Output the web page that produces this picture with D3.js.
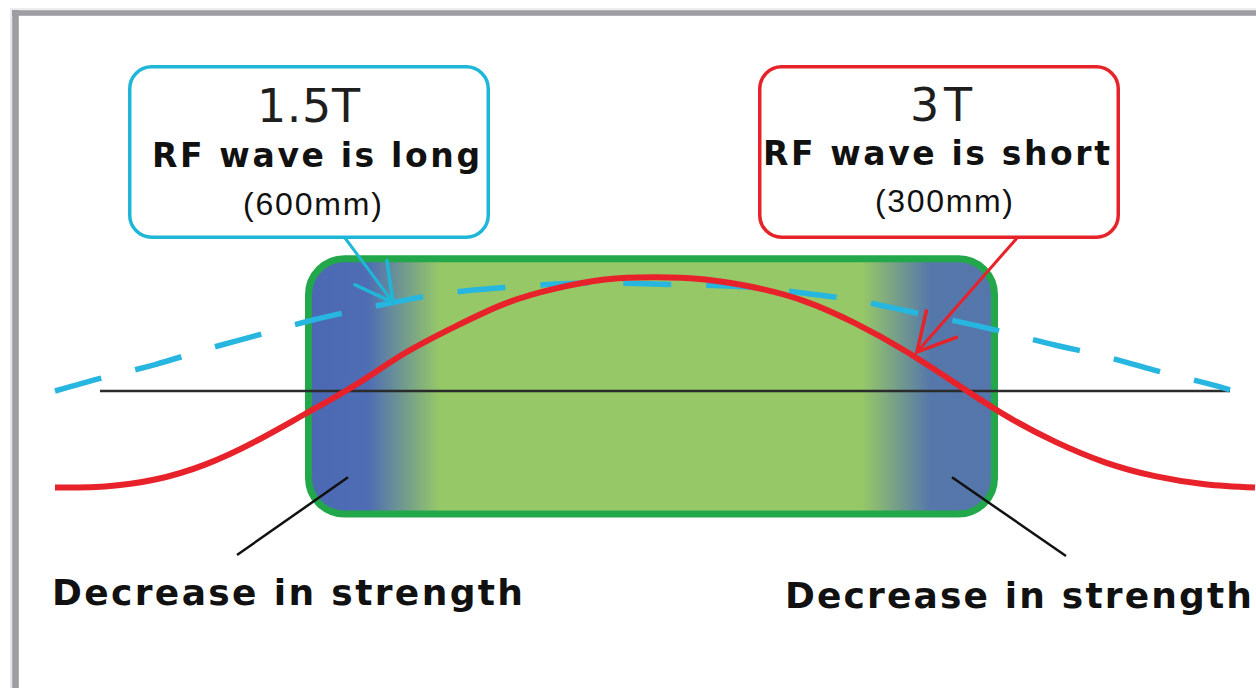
<!DOCTYPE html>
<html><head><meta charset="utf-8">
<script src="https://cdn.jsdelivr.net/npm/d3@7"></script>
<style>html,body{margin:0;padding:0;background:#fff;} svg{display:block;}</style>
</head><body>
<svg id="c" width="1256" height="688"></svg>
<script>
// ---------------- data ----------------
// position along the body axis (arbitrary units), RF field amplitude (relative)
const positions3T = [0,50,100,150,200,250,300,350,400,450,500,550,600,650,700,750,800,850,900,950,1000,1050,1100,1150,1200];
const field3T     = [-0.84,-0.83,-0.77,-0.64,-0.44,-0.20,0.05,0.33,0.56,0.76,0.89,0.97,0.99,0.97,0.90,0.78,0.59,0.35,0.07,-0.21,-0.44,-0.62,-0.74,-0.81,-0.84];
const positions15T = [0,50,100,150,200,250,300,350,400,450,500,550,600,650,700,750,800,850,900,950,1000,1050,1100,1150,1175];
const field15T     = [0,0.12,0.23,0.36,0.48,0.60,0.70,0.79,0.86,0.90,0.93,0.94,0.93,0.92,0.90,0.85,0.79,0.70,0.61,0.51,0.40,0.30,0.18,0.07,0.01];
const baselineSpan = [45, 1175];           // zero-amplitude axis extent
const phantomSpan  = [250, 943];           // body (green object) extent
const phantomAmp   = [1.18, -1.10];
const labels15T = ["1.5T", "RF wave is long", "(600mm)"];
const labels3T  = ["3T", "RF wave is short", "(300mm)"];
const weakLabel = "Decrease in strength";
// annotation targets: [position, amplitude]
const tip15T = [338, 0.77];
const tip3T  = [862, 0.34];
const weakLeft  = [293, -0.75];
const weakRight = [897, -0.75];

// ---------------- scales ----------------
const W = 1256, H = 688;
const x = d3.scaleLinear().domain([0, 1200]).range([55, 1255]);
const y = d3.scaleLinear().domain([-1, 1]).range([506, 276]);

const svg = d3.select("#c");
const defs = svg.append("defs");

// frame
svg.append("line").attr("x1", 15.5).attr("x2", 15.5).attr("y1", 10).attr("y2", H)
  .attr("stroke", "#e6e6e8").attr("stroke-width", 11);
svg.append("line").attr("x1", 10).attr("x2", W).attr("y1", 13).attr("y2", 13)
  .attr("stroke", "#ececee").attr("stroke-width", 10);
svg.append("line").attr("x1", 15.5).attr("x2", 15.5).attr("y1", 10).attr("y2", H)
  .attr("stroke", "#9e9ea2").attr("stroke-width", 6.5);
svg.append("line").attr("x1", 12).attr("x2", W).attr("y1", 13).attr("y2", 13)
  .attr("stroke", "#9e9ea2").attr("stroke-width", 5.5);
svg.append("rect").attr("x", 19).attr("y", 16).attr("width", W).attr("height", H).attr("fill", "#fff");

// gradient for the body
const bx0 = x(phantomSpan[0]), bx1 = x(phantomSpan[1]);
const grad = defs.append("linearGradient").attr("id", "body")
  .attr("gradientUnits", "userSpaceOnUse")
  .attr("x1", bx0).attr("x2", bx1).attr("y1", 0).attr("y2", 0);
const stopPx = [[bx0, "#4b69b3"], [368, "#4e6db4"], [440, "#96c867"], [862, "#96c867"], [930, "#5677aa"], [bx1, "#5576aa"]];
stopPx.forEach(([px, c]) => grad.append("stop")
  .attr("offset", ((px - bx0) / (bx1 - bx0)).toFixed(4)).attr("stop-color", c));

const sw = 7;
svg.append("rect")
  .attr("x", bx0 + sw / 2).attr("y", y(phantomAmp[0]) + sw / 2)
  .attr("width", bx1 - bx0 - sw).attr("height", y(phantomAmp[1]) - y(phantomAmp[0]) - sw)
  .attr("rx", 36).attr("ry", 36)
  .attr("fill", "url(#body)").attr("stroke", "#22a84a").attr("stroke-width", sw);

// baseline
svg.append("line")
  .attr("x1", x(baselineSpan[0])).attr("x2", x(baselineSpan[1]))
  .attr("y1", y(0)).attr("y2", y(0))
  .attr("stroke", "#2b2b2b").attr("stroke-width", 2.5);

// curves
const line = d3.line().x(d => x(d[0])).y(d => y(d[1])).curve(d3.curveNatural);
svg.append("path").datum(positions15T.map((p, i) => [p, field15T[i]]))
  .attr("d", line).attr("fill", "none").attr("stroke", "#27b6df")
  .attr("stroke-width", 5.5).attr("stroke-dasharray", "48 35");
svg.append("path").datum(positions3T.map((p, i) => [p, field3T[i]]))
  .attr("d", line).attr("fill", "none").attr("stroke", "#e8222a")
  .attr("stroke-width", 6);

// callout boxes
function callout(x0, x1, color, tip, from) {
  svg.append("rect").attr("x", x0 + 1.75).attr("y", 66.75)
    .attr("width", x1 - x0 - 3.5).attr("height", 170.5)
    .attr("rx", 22).attr("ry", 22)
    .attr("fill", "#fff").attr("stroke", color).attr("stroke-width", 3.5);
  const mid = "ah" + color.replace("#", "");
  const m = defs.append("marker").attr("id", mid)
    .attr("viewBox", "-50 -30 60 60").attr("refX", 0).attr("refY", 0)
    .attr("markerWidth", 60).attr("markerHeight", 60)
    .attr("markerUnits", "userSpaceOnUse").attr("orient", "auto");
  m.append("path").attr("d", "M-37,-20 L0,0 L-37,20")
    .attr("fill", "none").attr("stroke", color).attr("stroke-width", 3.5).attr("stroke-linecap", "round");
  svg.append("line").attr("x1", from).attr("y1", 238)
    .attr("x2", x(tip[0])).attr("y2", y(tip[1]))
    .attr("stroke", color).attr("stroke-width", 3).attr("marker-end", `url(#${mid})`);
}
callout(128, 490, "#1fb7d8", tip15T, 345);
callout(758, 1120, "#e62329", tip3T, 1017);

// leader lines to the weak areas
svg.append("line").attr("x1", 237).attr("y1", 555).attr("x2", x(weakLeft[0])).attr("y2", y(weakLeft[1]))
  .attr("stroke", "#111").attr("stroke-width", 2.5);
svg.append("line").attr("x1", 1066).attr("y1", 556).attr("x2", x(weakRight[0])).attr("y2", y(weakRight[1]))
  .attr("stroke", "#111").attr("stroke-width", 2.5);

// texts
function txt(str, x0, width, base, family, size, weight, color) {
  return svg.append("text").attr("x", x0).attr("y", base)
    .attr("font-family", family).attr("font-size", size).attr("font-weight", weight)
    .attr("fill", color).attr("textLength", width).attr("lengthAdjust", "spacing").text(str);
}
txt(labels15T[0], 257, 103, 122, "DejaVu Sans", 46, "normal", "#1e1e1e");
txt(labels15T[1], 152, 328, 167, "DejaVu Sans", 33, "bold", "#111");
txt(labels15T[2], 243, 139, 215, "Liberation Sans", 32, "normal", "#111");
txt(labels3T[0], 910, 62, 121, "DejaVu Sans", 46, "normal", "#1e1e1e");
txt(labels3T[1], 763, 347, 165, "DejaVu Sans", 33, "bold", "#111");
txt(labels3T[2], 875, 138, 212, "Liberation Sans", 32, "normal", "#111");
txt(weakLabel, 52, 471, 605, "DejaVu Sans", 36, "bold", "#111");
txt(weakLabel, 785, 467, 608, "DejaVu Sans", 36, "bold", "#111");
</script>
</body></html>
